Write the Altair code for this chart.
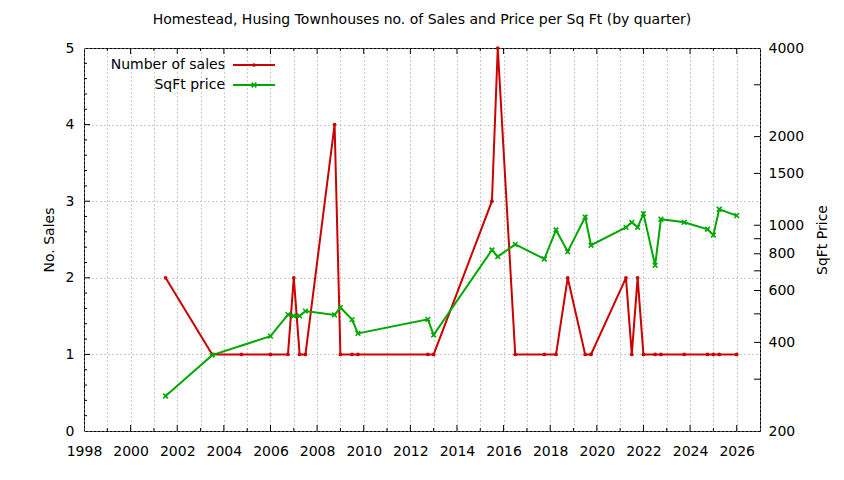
import altair as alt
import pandas as pd

# ---- data ----
sales_year = [2001.5, 2003.5, 2004.75, 2006.0, 2006.75, 2007.0, 2007.25, 2007.5,
              2008.75, 2009.0, 2009.5, 2009.75, 2012.75, 2013.0, 2015.5, 2015.75,
              2016.5, 2017.75, 2018.25, 2018.75, 2019.5, 2019.75, 2021.25, 2021.5,
              2021.75, 2022.0, 2022.5, 2022.75, 2023.75, 2024.75, 2025.0, 2025.25, 2026.0]
sales_count = [2, 1, 1, 1, 1, 2, 1, 1,
               4, 1, 1, 1, 1, 1, 3, 5,
               1, 1, 1, 2, 1, 1, 2, 1,
               2, 1, 1, 1, 1, 1, 1, 1, 1]

price_year = [2001.5, 2003.5, 2006.0, 2006.75, 2007.0, 2007.25, 2007.5,
              2008.75, 2009.0, 2009.5, 2009.75, 2012.75, 2013.0, 2015.5, 2015.75,
              2016.5, 2017.75, 2018.25, 2018.75, 2019.5, 2019.75, 2021.25, 2021.5,
              2021.75, 2022.0, 2022.5, 2022.75, 2023.75, 2024.75, 2025.0, 2025.25, 2026.0]
price_sqft = [263, 362, 420, 497, 492, 492, 511,
              496, 525, 478, 429, 479, 424, 824, 782,
              861, 768, 964, 813, 1066, 855, 984, 1023,
              984, 1095, 731, 1048, 1023, 969, 926, 1133, 1078]

x_major_ticks = [2000, 2002, 2004, 2006, 2008, 2010, 2012, 2014, 2016, 2018, 2020, 2022, 2024, 2026]
x_minor_ticks = [1999, 2001, 2003, 2005, 2007, 2009, 2011, 2013, 2015, 2017, 2019, 2021, 2023, 2025]
x_grid_years = list(range(1998, 2028))
left_labels = [0, 1, 2, 3, 4, 5]
left_major_ticks = [1, 2, 3, 4]
left_minor_ticks = [0.2, 0.4, 0.6, 0.8, 1.2, 1.4, 1.6, 1.8, 2.2, 2.4, 2.6, 2.8,
                    3.2, 3.4, 3.6, 3.8, 4.2, 4.4, 4.6, 4.8]
right_labels = [200, 400, 600, 800, 1000, 1500, 2000, 4000]
right_ticks = [300, 400, 500, 600, 700, 800, 900, 1000, 1500, 2000, 3000]

TITLE = "Homestead, Husing Townhouses no. of Sales and Price per Sq Ft (by quarter)"
RED = "#cc0000"
GREEN = "#00a800"
FONT = "DejaVu Sans"
FS = 14
W, H = 676, 383

sales = pd.DataFrame({"year": sales_year, "sales": sales_count})
price = pd.DataFrame({"year": price_year, "price": price_sqft})

xscale = alt.Scale(domain=[1998, 2027], nice=False, zero=False)
lscale = alt.Scale(domain=[0, 5], nice=False, zero=False)
rscale = alt.Scale(type="log", domain=[200, 4000], nice=False)

xaxis = alt.Axis(values=x_grid_years, format="d",
                 labelExpr="datum.value % 2 == 0 && datum.value < 2027 ? datum.label : ''",
                 grid=True, gridDash=[1, 3], gridColor="#9a9a9a", gridWidth=1,
                 tickSize=0, domain=False, labelPadding=13, labelFontSize=FS,
                 labelFont=FONT, labelColor="#000", title=None, labelFlush=False)
laxis = alt.Axis(values=left_labels, format="d", grid=True,
                 gridDash=[1, 3], gridColor="#9a9a9a", tickSize=0,
                 domain=False, labelPadding=10, labelFontSize=FS,
                 labelFont=FONT, labelColor="#000",
                 title="No. Sales", titleFont=FONT, titleFontSize=FS,
                 titleFontWeight="normal", titlePadding=9, titleColor="#000")
raxis = alt.Axis(orient="right", values=right_labels, format="d", grid=False,
                 tickSize=0, domain=False, labelPadding=8, labelFontSize=FS,
                 labelFont=FONT, labelColor="#000",
                 title="SqFt Price", titleFont=FONT, titleFontSize=FS,
                 titleFontWeight="normal", titleAngle=270, titlePadding=26,
                 titleColor="#000")

X = alt.X("year:Q", scale=xscale, axis=xaxis)
YL = alt.Y("sales:Q", scale=lscale, axis=laxis)
YR = alt.Y("price:Q", scale=rscale, axis=raxis)

# ----- left (sales) layer -----
sales_line = alt.Chart(sales).mark_line(color=RED, strokeWidth=2).encode(x=X, y=YL)
sales_pts = alt.Chart(sales).mark_point(color=RED, filled=True, shape="circle",
                                         size=14, opacity=1).encode(x=X, y=YL)
lmaj = alt.Chart(pd.DataFrame({"sales": left_major_ticks})).mark_rule(color="#000").encode(
    y=YL, x=alt.value(0), x2=alt.value(6))
lmin = alt.Chart(pd.DataFrame({"sales": left_minor_ticks})).mark_rule(color="#000").encode(
    y=YL, x=alt.value(0), x2=alt.value(3))
left = alt.layer(sales_line, sales_pts, lmaj, lmin)

# ----- right (price) layer -----
XSHAPE = "M-1,-1L1,1M-1,1L1,-1"
price_line = alt.Chart(price).mark_line(color=GREEN, strokeWidth=2).encode(x=X, y=YR)
price_pts = alt.Chart(price).mark_point(color=GREEN, shape=XSHAPE,
                                         size=22, strokeWidth=1.6, opacity=1).encode(x=X, y=YR)
rt = alt.Chart(pd.DataFrame({"price": right_ticks})).mark_rule(color="#000").encode(
    y=YR, x=alt.value(W), x2=alt.value(W - 6))
right = alt.layer(price_line, price_pts, rt)

# ----- x ticks (inward, top and bottom) -----
xmaj = pd.DataFrame({"year": x_major_ticks})
xmin = pd.DataFrame({"year": x_minor_ticks})
xt = alt.layer(
    alt.Chart(xmaj).mark_rule(color="#000").encode(x=X, y=alt.value(H), y2=alt.value(H - 6)),
    alt.Chart(xmaj).mark_rule(color="#000").encode(x=X, y=alt.value(0), y2=alt.value(6)),
    alt.Chart(xmin).mark_rule(color="#000").encode(x=X, y=alt.value(H), y2=alt.value(H - 3)),
    alt.Chart(xmin).mark_rule(color="#000").encode(x=X, y=alt.value(0), y2=alt.value(3)),
)

# ----- legend (top-left inside) -----
one = alt.Data(values=[{"a": 1}])
def legend_entry(label, color, ypix, pt):
    txt = alt.Chart(one).mark_text(align="right", baseline="middle", font=FONT,
                                   fontSize=FS, color="#000").encode(
        x=alt.value(141), y=alt.value(ypix), text=alt.value(label))
    ln = alt.Chart(one).mark_rule(color=color, strokeWidth=2).encode(
        x=alt.value(149), x2=alt.value(191), y=alt.value(ypix))
    if pt == "dot":
        p = alt.Chart(one).mark_point(color=color, filled=True, shape="circle",
                                      size=14, opacity=1)
    else:
        p = alt.Chart(one).mark_point(color=color, shape=XSHAPE,
                                      size=22, strokeWidth=1.6, opacity=1)
    p = p.encode(x=alt.value(170), y=alt.value(ypix))
    return [txt, ln, p]

legend_layers = legend_entry("Number of sales", RED, 17, "dot") + \
    legend_entry("SqFt price", GREEN, 37, "x")

chart = alt.layer(left, right, xt, *legend_layers).resolve_scale(
    y="independent"
).properties(
    width=W, height=H,
    background="#ffffff",
    title=alt.TitleParams(TITLE, font=FONT, fontSize=FS, fontWeight="normal",
                          color="#000", anchor="middle", offset=14),
    padding={"left": 76, "top": 40, "right": 76, "bottom": 41},
    autosize=alt.AutoSizeParams(type="none"),
).configure_view(stroke="#000", strokeWidth=1)

chart.save("out.html", embed_options={"renderer": "svg", "actions": False})
